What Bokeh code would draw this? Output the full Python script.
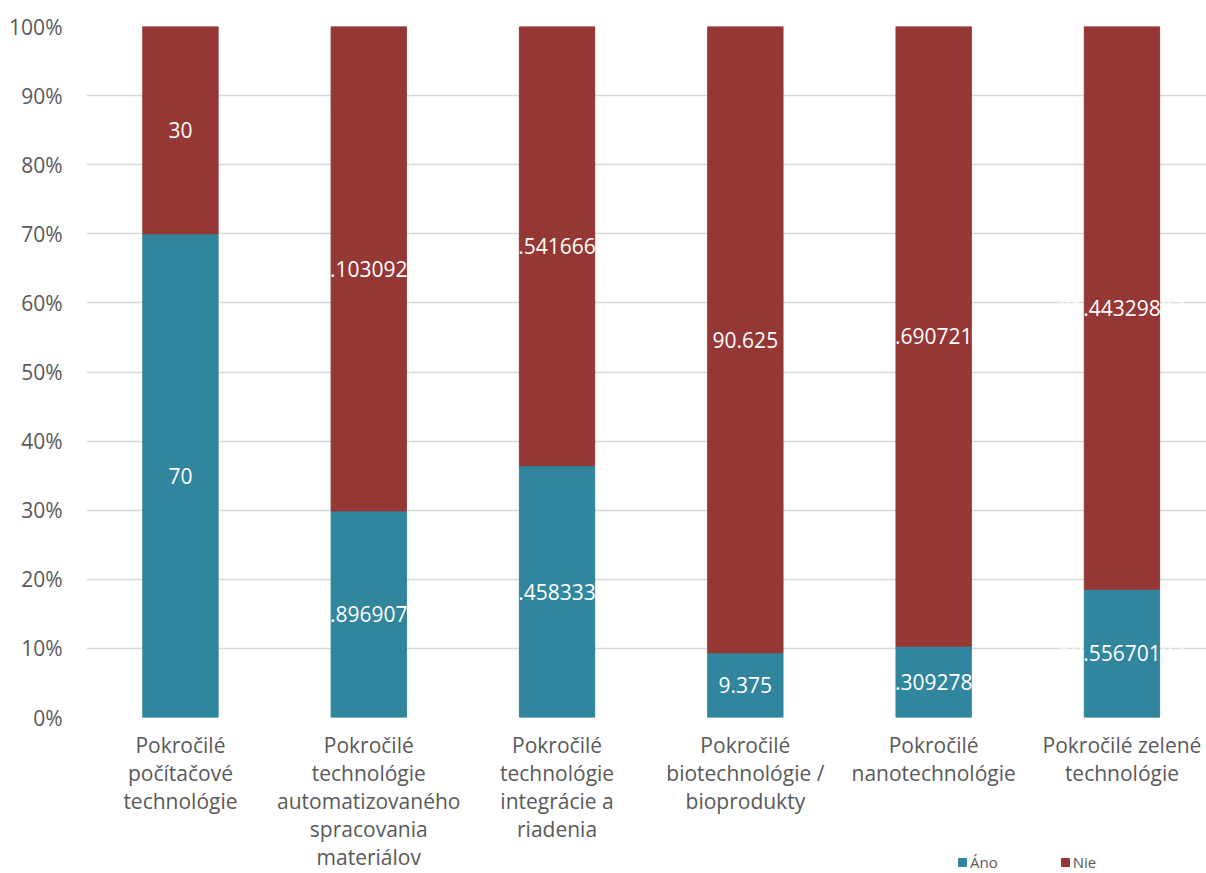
from bokeh.plotting import figure
from bokeh.layouts import column
from bokeh.models import ColumnDataSource, Range1d, Legend, LegendItem, FixedTicker
from bokeh.embed import file_html
from bokeh.resources import INLINE
from bokeh.core.properties import value

categories = [
    "Pokročilé\npočítačové\ntechnológie",
    "Pokročilé\ntechnológie\nautomatizovaného\nspracovania\nmateriálov",
    "Pokročilé\ntechnológie\nintegrácie a\nriadenia",
    "Pokročilé\nbiotechnológie /\nbioprodukty",
    "Pokročilé\nnanotechnológie",
    "Pokročilé zelené\ntechnológie",
]
ano = [70, 29.896907216494846, 36.458333333333336, 9.375, 10.309278350515465, 18.556701030927837]
nie = [30, 70.10309278350516, 63.541666666666664, 90.625, 89.69072164948453, 81.44329896907217]
y_ticks = [0, 10, 20, 30, 40, 50, 60, 70, 80, 90, 100]
series_names = ["Áno", "Nie"]

TEAL = "#31859C"
RED = "#953735"
GREY = "#595959"
FONT = "Open Sans"

xs = list(range(len(categories)))
src = ColumnDataSource(dict(
    x=xs,
    ano_top=ano,
    nie_bottom=ano,
    nie_top=[a + n for a, n in zip(ano, nie)],
    ano_mid=[a / 2 for a in ano],
    nie_mid=[a + n / 2 for a, n in zip(ano, nie)],
    ano_lbl=[f"{v:.10g}" for v in ano],
    nie_lbl=[f"{v:.10g}" for v in nie],
))

p = figure(width=1206, height=873, output_backend="svg", toolbar_location=None,
           x_range=Range1d(-0.499, 5.449), y_range=Range1d(0, 100),
           min_border_left=86, min_border_right=0, min_border_top=26, min_border_bottom=155)
p.outline_line_color = None
p.background_fill_color = "white"
p.border_fill_color = "white"

p.xgrid.grid_line_color = None
p.ygrid.grid_line_color = "#D9D9D9"
p.ygrid.grid_line_width = 1.3
p.ygrid.ticker = FixedTicker(ticks=y_ticks)

p.vbar(x="x", bottom=0, top="ano_top", width=0.4, color=TEAL, source=src)
p.vbar(x="x", bottom="nie_bottom", top="nie_top", width=0.4, color=RED, source=src)

p.text(x="x", y="ano_mid", text="ano_lbl", source=src, text_color="white",
       text_align="center", text_baseline="middle", text_font=value(FONT), text_font_size="21px")
p.text(x="x", y="nie_mid", text="nie_lbl", source=src, text_color="white",
       text_align="center", text_baseline="middle", text_font=value(FONT), text_font_size="21px")

p.yaxis.ticker = FixedTicker(ticks=y_ticks)
p.yaxis.major_label_overrides = {t: f"{t}%" for t in y_ticks}
p.yaxis.axis_line_color = None
p.yaxis.major_tick_line_color = None
p.yaxis.minor_tick_line_color = None
p.yaxis.major_label_text_font = FONT
p.yaxis.major_label_text_font_size = "21px"
p.yaxis.major_label_text_color = GREY
p.yaxis.major_label_standoff = 18

p.xaxis.ticker = FixedTicker(ticks=xs)
p.xaxis.major_label_overrides = {i: c for i, c in enumerate(categories)}
p.xaxis.axis_line_color = None
p.xaxis.major_tick_line_color = None
p.xaxis.minor_tick_line_color = None
p.xaxis.major_label_text_font = FONT
p.xaxis.major_label_text_font_size = "21px"
p.xaxis.major_label_text_color = GREY
p.xaxis.major_label_text_line_height = 1.0
p.xaxis.major_label_standoff = 7

# legend drawn in a small overlaid figure at the bottom right
lf = figure(width=240, height=22, output_backend="svg", toolbar_location=None,
            x_range=Range1d(0, 1), y_range=Range1d(0, 1),
            x_axis_location=None, y_axis_location=None,
            min_border_left=0, min_border_right=0, min_border_top=0, min_border_bottom=0,
            margin=(-22, 0, 0, 871))
lf.grid.grid_line_color = None
lf.outline_line_color = None
lf.background_fill_alpha = 0
lf.border_fill_alpha = 0
la = lf.vbar(x=[5], top=[1], width=0.1, color=TEAL)
ln = lf.vbar(x=[5], top=[1], width=0.1, color=RED)
legend = Legend(items=[LegendItem(label=series_names[0], renderers=[la]),
                       LegendItem(label=series_names[1], renderers=[ln])],
                orientation="horizontal", location="left",
                label_text_font=FONT, label_text_font_size="15px", label_text_color=GREY,
                glyph_width=10, glyph_height=10, spacing=62, label_standoff=3,
                background_fill_alpha=0, border_line_color=None, padding=0, margin=0)
lf.add_layout(legend, "center")

layout = column(p, lf, spacing=0)
open("out.html", "w").write(file_html(layout, INLINE))
